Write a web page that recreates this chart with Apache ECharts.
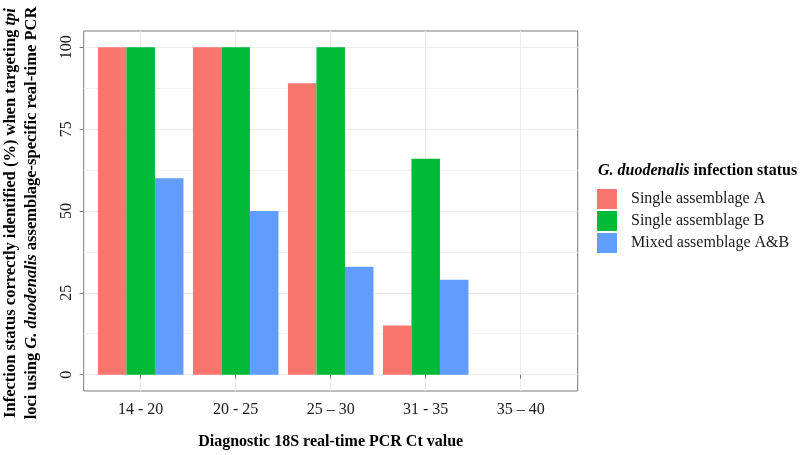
<!DOCTYPE html>
<html>
<head>
<meta charset="utf-8">
<script src="https://cdn.jsdelivr.net/npm/echarts@6/dist/echarts.min.js"></script>
<style>html,body{margin:0;padding:0;background:#fff;}#c{width:800px;height:455px;}</style>
</head>
<body>
<div id="c"></div>
<script>
const categories = ['14 - 20', '20 - 25', '25 \u2013 30', '31 - 35', '35 \u2013 40'];
const seriesNames = ['Single assemblage A', 'Single assemblage B', 'Mixed assemblage A&B'];
const assemblageA = [100, 100, 89, 15, 0];
const assemblageB = [100, 100, 100, 66, 0];
const mixedAB = [60, 50, 33, 29, 0];
const yTicks = [0, 25, 50, 75, 100];
const yMinor = [12.5, 37.5, 62.5, 87.5];
const xPositions = [1, 2, 3, 4, 5];

const colors = ['#F8766D', '#00BA38', '#619CFF'];
const font = 'Liberation Serif';
const allValues = [assemblageA, assemblageB, mixedAB];

const chart = echarts.init(document.getElementById('c'), null, {renderer: 'canvas'});
const option = {
  animation: false,
  backgroundColor: '#fff',
  grid: {left: 83.7, top: 31, width: 494, height: 360, show: true, borderColor: '#7a7a7a', borderWidth: 1, backgroundColor: 'transparent'},
  xAxis: {
    type: 'value', min: 0.4, max: 5.6,
    axisLine: {show: false},
    axisTick: {show: true, customValues: xPositions, length: 4, lineStyle: {color: '#7a7a7a'}},
    axisLabel: {customValues: xPositions, formatter: v => categories[Math.round(v) - 1], margin: 11,
      fontFamily: font, fontSize: 16, color: '#1a1a1a'},
    splitLine: {show: true, lineStyle: {color: '#ebebeb', width: 1}}
  },
  yAxis: [{
    type: 'value', min: -5, max: 105,
    axisLine: {show: false},
    axisTick: {show: true, customValues: yTicks, length: 4, lineStyle: {color: '#7a7a7a'}},
    axisLabel: {customValues: yTicks, rotate: 90, margin: 9, fontFamily: font, fontSize: 16, color: '#1a1a1a'},
    splitLine: {show: true, lineStyle: {color: '#ebebeb', width: 1}}
  }, {
    type: 'value', min: -5, max: 105, position: 'left',
    axisLine: {show: false},
    axisTick: {show: false, customValues: yMinor},
    axisLabel: {show: false, customValues: yMinor},
    splitLine: {show: true, lineStyle: {color: '#f3f3f3', width: 1}}
  }],
  legend: {
    orient: 'vertical', left: 592, top: 184, itemWidth: 20, itemHeight: 20, itemGap: 2,
    icon: 'rect', data: seriesNames,
    textStyle: {fontFamily: font, fontSize: 16, color: '#1a1a1a', padding: [0, 0, 0, 9]}
  },
  graphic: [
    {type: 'text', left: 598, top: 163, style: {
      text: '{i|G. duodenalis} infection status',
      font: 'bold 16px "Liberation Serif"', fill: '#000',
      rich: {i: {fontStyle: 'italic', fontWeight: 'bold', fontSize: 16, fontFamily: font}}
    }},
    {type: 'text', x: 330.7, y: 442, style: {
      text: 'Diagnostic 18S real-time PCR Ct value',
      font: 'bold 16px "Liberation Serif"', fill: '#000', align: 'center', verticalAlign: 'middle'
    }},
    {type: 'text', x: 21, y: 213, rotation: Math.PI / 2, style: {
      text: 'Infection status correctly identified (%) when targeting {i|tpi}\nloci using {i|G. duodenalis} assemblage-specific real-time PCR',
      font: 'bold 16.5px "Liberation Serif"', fill: '#000', align: 'center', verticalAlign: 'middle',
      lineHeight: 21,
      rich: {i: {fontStyle: 'italic', fontWeight: 'bold', fontSize: 16.5, fontFamily: font, lineHeight: 21}}
    }}
  ],
  series: seriesNames.map((name, k) => ({
    name: name, type: 'bar', barWidth: 28.5, barGap: '0%',
    itemStyle: {color: colors[k]},
    data: allValues[k].map((v, i) => [xPositions[i], v])
  }))
};
chart.setOption(option);
</script>
</body>
</html>
